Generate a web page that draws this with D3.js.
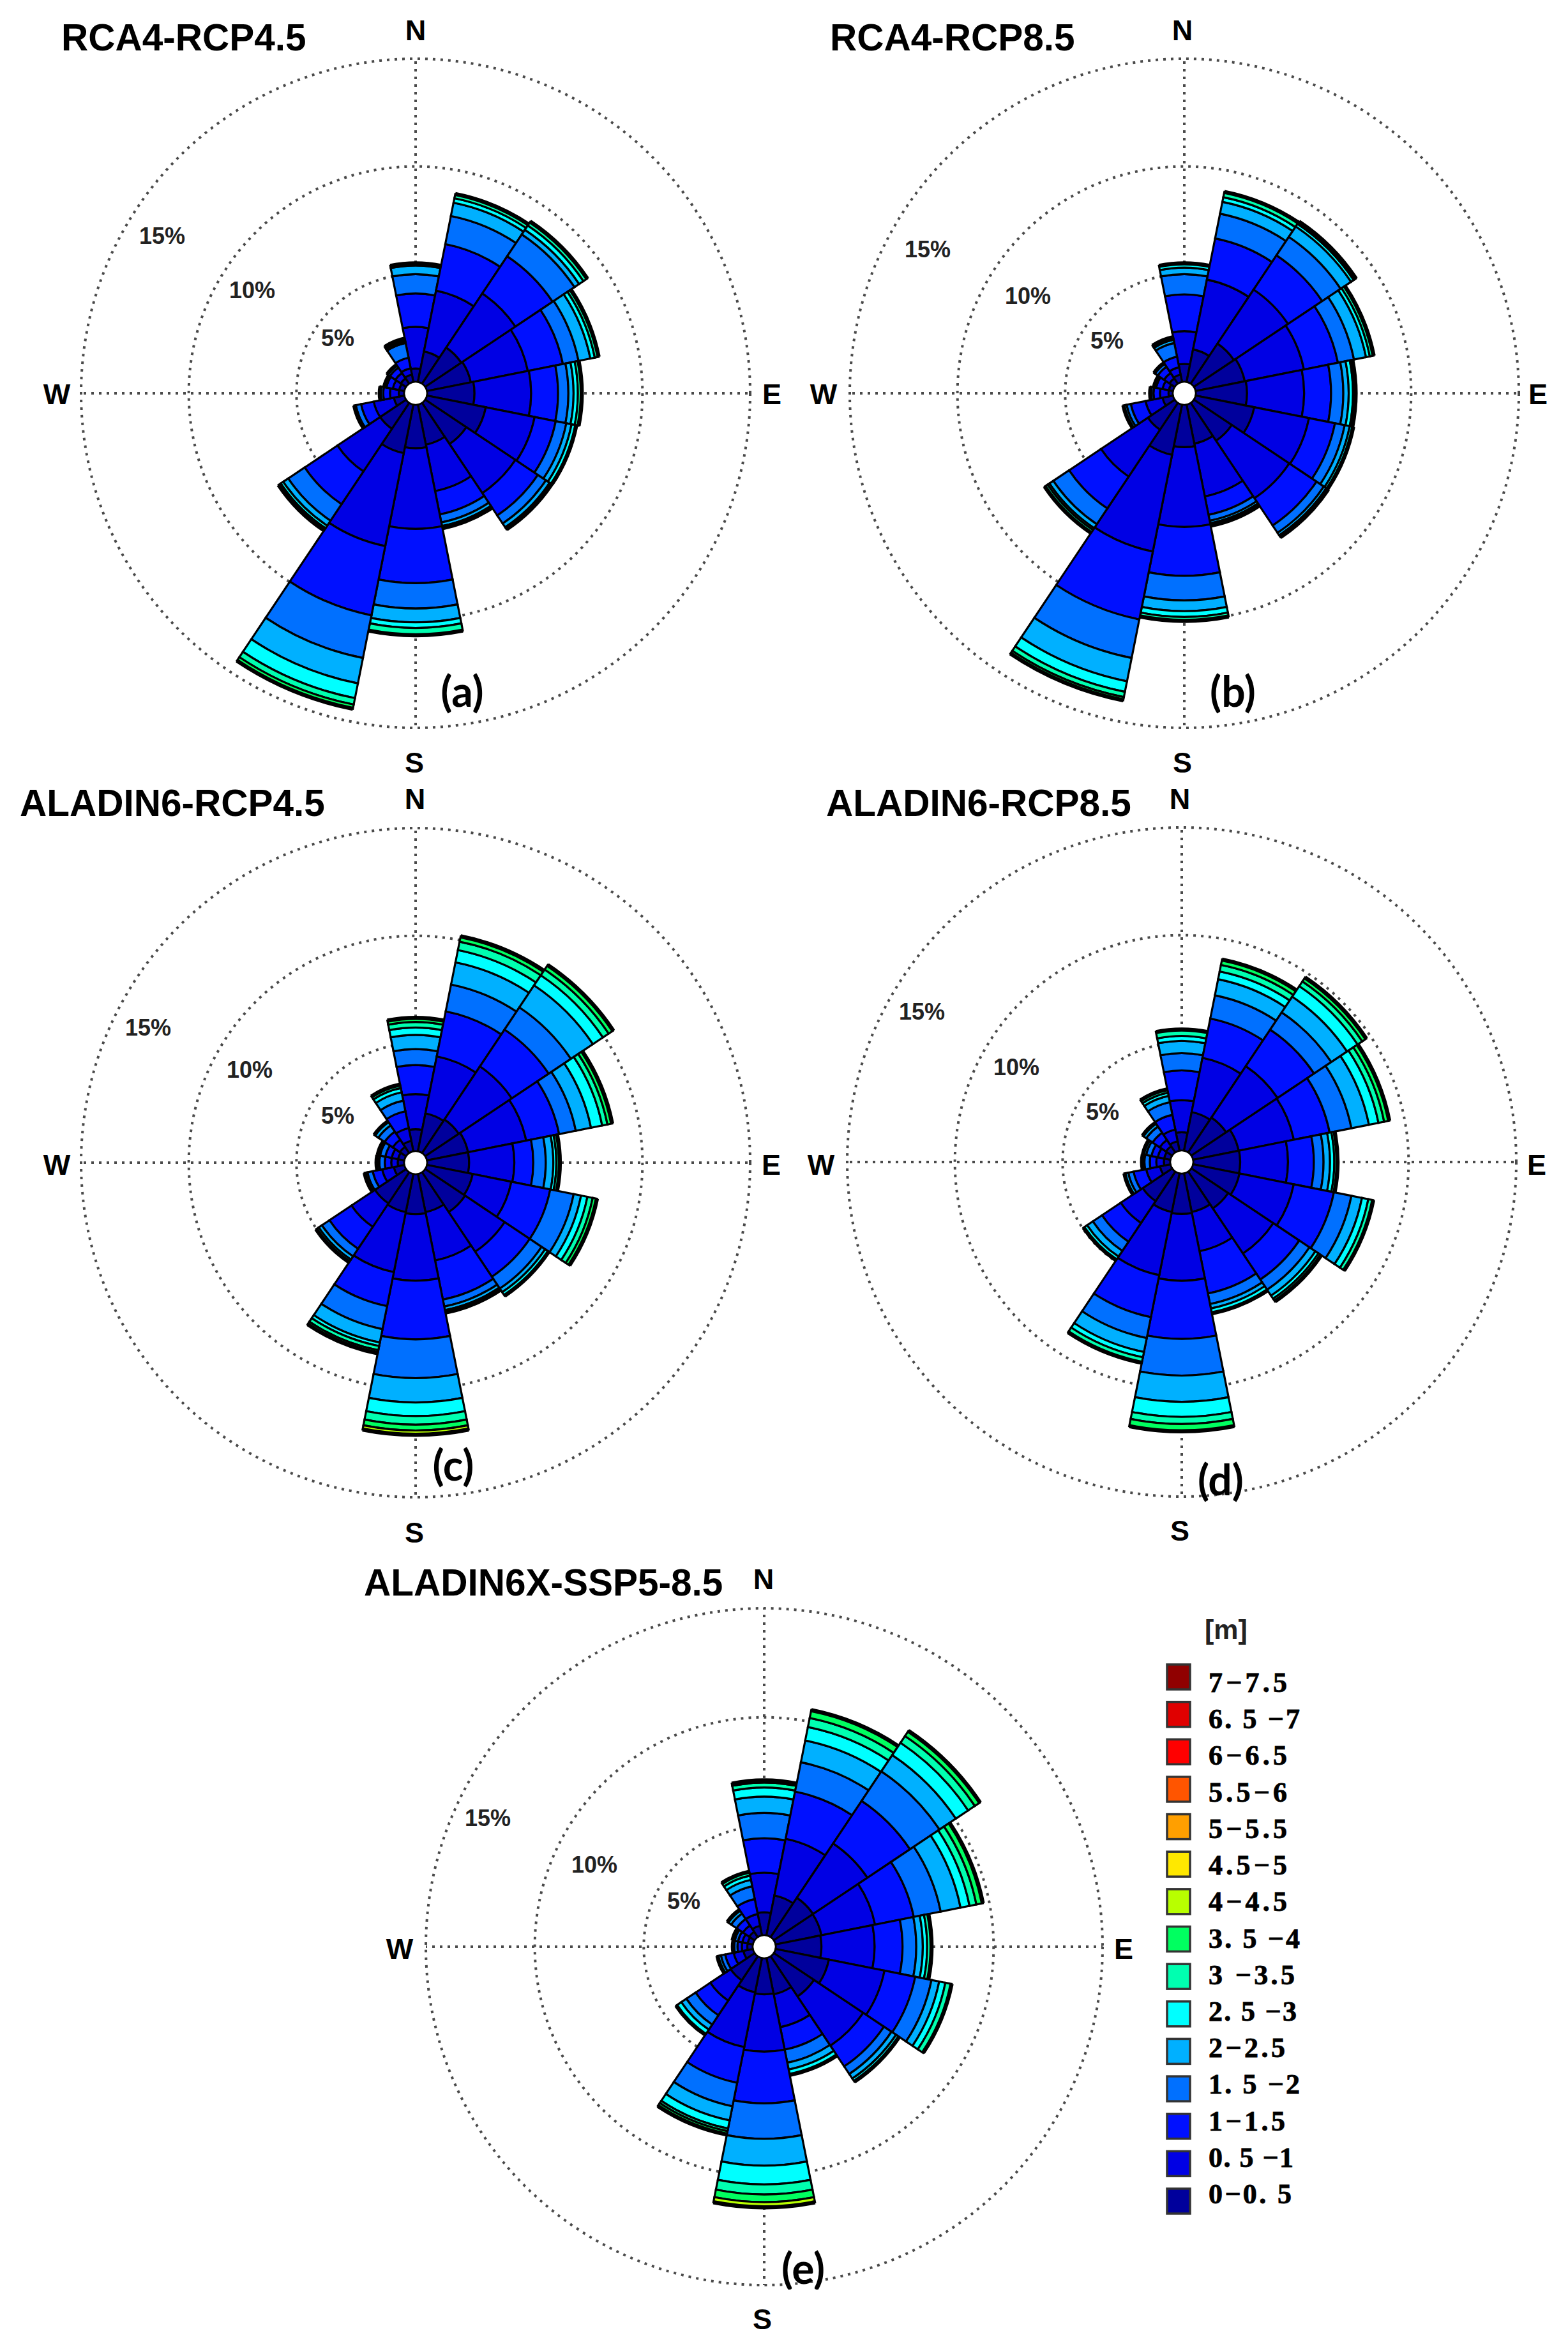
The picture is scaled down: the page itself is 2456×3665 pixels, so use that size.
<!DOCTYPE html>
<html>
<head>
<meta charset="utf-8">
<script src="https://cdnjs.cloudflare.com/ajax/libs/d3/7.8.5/d3.min.js"></script>
<style>
  body { margin: 0; background: #fff; }
  svg { display: block; }
  text { font-family: "Liberation Sans", Arial, sans-serif; fill: #000; }
</style>
</head>
<body>
<svg id="chart" width="2456" height="3665"></svg>
<script>
var directions = ['N','NNE','NE','ENE','E','ESE','SE','SSE','S','SSW','SW','WSW','W','WNW','NW','NNW'];
var ringTicks = [5, 10, 15];

var binLabels = ['0\u22120. 5','0. 5 \u22121','1\u22121.5','1. 5 \u22122','2\u22122.5','2. 5 \u22123','3 \u22123.5',
  '3. 5 \u22124','4\u22124.5','4.5\u22125','5\u22125.5','5.5\u22126','6\u22126.5','6. 5 \u22127','7\u22127.5'];
var binColors = ['#00009c','#0000e4','#0010ff','#0070ff','#00b0ff','#00ffff','#00ffb0',
  '#00ff60','#b8ff00','#ffe800','#ff9f00','#ff5500','#ff0000','#e00000','#900000'];

// cumulative frequency (%) at the top of each height bin, one row per direction from N clockwise
var rcaRcp45 = [
  [.62,2.55,4.1,5.0,5.4,5.5],
  [1.45,4.33,6.53,7.86,8.49,8.7,8.9],
  [2.02,5.04,7.12,8.34,8.6,8.84,9.05],
  [2.08,4.78,6.44,7.18,7.74,7.95,8.13],
  [2.2,4.83,6.08,6.56,6.8,7.0,7.18],
  [2.79,5.1,6.1,6.6,6.85,7.07],
  [2.3,5.04,6.29,6.74,6.95,7.06],
  [1.9,4.1,5.2,5.58,5.75,5.85],
  [2.02,5.76,8.28,9.46,10.1,10.36,10.7],
  [2.3,6.7,9.98,12.0,13.2,13.9,14.2,14.4],
  [1.45,3.83,5.66,6.58,6.86,7.0,7.12],
  [.5,1.45,2.05,2.3,2.37],
  [.25,.66,.97,1.13],
  [.25,.55,.85,.95],
  [.3,.6,.9,1.05],
  [.35,.65,1.15,1.85,1.95,2.05]
];
var rcaRcp85 = [
  [.83,2.35,4.06,5.0,5.3,5.5],
  [1.55,4.85,6.8,7.97,8.53,8.75,9.0],
  [2.24,5.26,7.17,8.2,8.78,8.93,9.05],
  [2.33,5.13,6.74,7.5,8.07,8.25,8.43],
  [2.38,5.03,6.28,6.85,7.1,7.3,7.42],
  [2.78,5.37,6.6,7.06,7.3,7.46],
  [2.12,5.33,6.85,7.26,7.4,7.5],
  [1.85,4.35,5.22,5.5,5.62,5.73],
  [1.97,5.67,7.94,9.08,9.58,9.85,10.03],
  [2.38,6.96,10.17,12.0,13.1,13.6,13.85,14.0],
  [1.5,4.12,5.9,6.78,7.0,7.1,7.26],
  [.5,1.3,2.0,2.2,2.35],
  [.2,.6,.9,1.05],
  [.2,.5,.8,.9],
  [.3,.6,.95,1.15],
  [.35,.7,1.2,1.85,2.0,2.12]
];
var aladinRcp45 = [
  [1.02,2.65,4.0,4.74,5.4,5.74,6.0,6.19],
  [1.8,4.5,6.63,7.9,8.95,9.53,9.93,10.18],
  [1.88,4.84,6.9,8.14,9.37,9.93,10.25,10.5],
  [1.95,4.7,6.26,7.05,7.77,8.3,8.55,8.77],
  [1.95,4.05,4.93,5.51,5.86,6.0,6.16],
  [2.17,4.0,5.84,6.95,7.3,7.6,7.85,8.05],
  [2.23,4.44,5.84,6.5,6.7,6.9],
  [1.81,4.1,5.95,6.28,6.45,6.56],
  [1.86,4.95,7.67,9.47,10.6,11.23,11.63,11.9,12.1],
  [1.81,4.65,6.26,7.35,7.98,8.15,8.35,8.49],
  [1.74,3.05,4.28,4.7,4.88,5.02],
  [.5,1.05,1.5,1.75,1.88],
  [.3,.6,.9,1.15,1.28],
  [.3,.6,.9,1.15,1.26],
  [.35,.75,1.2,1.55,1.77],
  [.5,1.1,1.9,2.4,2.8,3.0,3.16]
];
var aladinRcp85 = [
  [.85,2.34,3.72,4.52,5.09,5.32,5.62],
  [1.83,4.4,6.26,7.36,8.12,8.49,8.8,9.05],
  [1.95,4.82,6.86,7.82,8.7,9.29,9.55,9.77],
  [2.16,4.77,6.47,7.5,8.33,8.78,9.05,9.29],
  [2.18,4.4,5.6,6.05,6.35,6.55,6.7],
  [2.2,4.77,6.67,7.5,8.0,8.3,8.53],
  [2.06,4.58,6.03,6.6,6.93,7.1,7.25],
  [1.83,3.69,5.69,6.19,6.4,6.63],
  [1.88,4.98,7.68,9.38,10.6,11.3,11.63,11.97],
  [1.83,4.82,6.81,7.8,8.46,8.71,8.97],
  [1.65,2.87,3.92,4.43,4.75,4.95],
  [.5,1.15,1.75,2.0,2.18],
  [.3,.65,.95,1.2,1.31],
  [.3,.6,.9,1.15,1.3],
  [.35,.7,1.1,1.45,1.65],
  [.45,1.0,1.7,2.3,2.6,2.75,2.91]
];
var aladinXSsp585 = [
  [1.05,2.87,4.45,5.61,6.36,6.78,7.0,7.1],
  [1.87,4.52,6.73,8.1,9.12,9.75,10.17,10.54],
  [2.17,5.17,7.52,9.15,10.05,10.73,11.1,11.38],
  [2.15,4.66,6.47,7.73,8.66,9.08,9.4,9.7],
  [2.1,4.54,5.82,6.45,6.75,6.95,7.15],
  [2.5,5.1,6.54,7.3,7.66,7.95,8.24],
  [2.22,4.94,6.08,6.5,6.75,6.92],
  [1.7,3.24,4.29,4.9,5.22,5.47],
  [1.66,4.29,6.66,8.29,9.52,10.38,10.84,11.19,11.43],
  [1.61,4.17,5.84,6.94,7.6,7.98,8.1,8.26],
  [1.33,2.45,3.26,3.77,4.05,4.33],
  [.45,.9,1.3,1.5,1.66],
  [.25,.5,.7,.85,.91],
  [.25,.5,.7,.85,.95],
  [.3,.65,1.0,1.3,1.5],
  [.45,1.0,1.7,2.3,2.6,2.8,2.98]
];

var panels = [
  {title:'RCA4-RCP4.5', values:rcaRcp45, tag:'(a)', cx:651, cy:616, r:524, titleAt:[96,79], tagAt:[724,1085],
   N:[651,63], S:[649,1210], W:[89,617], E:[1209,617], rings:[[529,529],[395,454],[254,369]]},
  {title:'RCA4-RCP8.5', values:rcaRcp85, tag:'(b)', cx:1855, cy:616, r:524, titleAt:[1300,79], tagAt:[1931,1085],
   N:[1852,63], S:[1852,1210], W:[1290,617], E:[2409,617], rings:[[1734,533],[1610,463],[1453,390]]},
  {title:'ALADIN6-RCP4.5', values:aladinRcp45, tag:'(c)', cx:651, cy:1821, r:524, titleAt:[31,1278], tagAt:[710,2297],
   N:[650,1267], S:[649,2416], W:[89,1824], E:[1208,1824], rings:[[529,1747],[391,1675],[232,1609]]},
  {title:'ALADIN6-RCP8.5', values:aladinRcp85, tag:'(d)', cx:1851, cy:1820, r:524, titleAt:[1294,1278], tagAt:[1912,2320],
   N:[1848,1267], S:[1848,2413], W:[1286,1824], E:[2407,1824], rings:[[1727,1741],[1592,1671],[1444,1584]]},
  {title:'ALADIN6X-SSP5-8.5', values:aladinXSsp585, tag:'(e)', cx:1197, cy:3049, r:530, titleAt:[570,2499], tagAt:[1258,3555],
   N:[1196,2489], S:[1194,3648], W:[626,3052], E:[1760,3052], rings:[[1071,2977],[931,2920],[764,2847]]}
];

var svg = d3.select('#chart');
var holeRadius = 18;
var dotColor = '#4a4a4a';
var angle = d3.scalePoint().domain(directions).range([0, 2 * Math.PI * 15 / 16]);
var halfWidth = Math.PI / 16;

function drawPanel(p) {
  var g = svg.append('g').attr('transform', 'translate(' + p.cx + ',' + p.cy + ')');
  var radius = d3.scaleLinear().domain([0, 15]).range([holeRadius, p.r]);

  g.selectAll('circle.ring').data(ringTicks).enter().append('circle')
    .attr('class', 'ring')
    .attr('r', d => radius(d))
    .attr('fill', 'none')
    .attr('stroke', dotColor)
    .attr('stroke-width', 4)
    .attr('stroke-dasharray', '4 8');

  [[0, -1], [0, 1], [-1, 0], [1, 0]].forEach(function (v) {
    g.append('line')
      .attr('x1', 0).attr('y1', 0)
      .attr('x2', v[0] * p.r).attr('y2', v[1] * p.r)
      .attr('stroke', dotColor)
      .attr('stroke-width', 4)
      .attr('stroke-dasharray', '4 8');
  });

  var arc = d3.arc();
  directions.forEach(function (dir, i) {
    var mid = angle(dir);
    var tops = [0].concat(p.values[i]);
    d3.pairs(tops).forEach(function (pair, bin) {
      g.append('path')
        .attr('d', arc({
          innerRadius: radius(pair[0]),
          outerRadius: radius(pair[1]),
          startAngle: mid - halfWidth,
          endAngle: mid + halfWidth
        }))
        .attr('fill', binColors[bin])
        .attr('stroke', '#000')
        .attr('stroke-width', 3.2)
        .attr('stroke-linejoin', 'miter');
    });
    // many near-empty top bins pile up into a heavy black rim
    var rim = radius(tops[tops.length - 1]);
    g.append('path')
      .attr('d', arc({innerRadius: rim, outerRadius: rim, startAngle: mid - halfWidth, endAngle: mid + halfWidth}))
      .attr('fill', 'none')
      .attr('stroke', '#000')
      .attr('stroke-width', 6.5);
  });

  g.append('circle').attr('r', 16.5).attr('fill', '#fff');

  svg.append('text').text(p.title)
    .attr('x', p.titleAt[0]).attr('y', p.titleAt[1])
    .attr('font-size', 58.5).attr('font-weight', 'bold');

  svg.append('text').text('N').attr('x', p.N[0]).attr('y', p.N[1])
    .attr('text-anchor', 'middle').attr('font-size', 45).attr('font-weight', 'bold');
  svg.append('text').text('S').attr('x', p.S[0]).attr('y', p.S[1])
    .attr('text-anchor', 'middle').attr('font-size', 45).attr('font-weight', 'bold');
  svg.append('text').text('W').attr('x', p.W[0]).attr('y', p.W[1] + 16)
    .attr('text-anchor', 'middle').attr('font-size', 45).attr('font-weight', 'bold');
  svg.append('text').text('E').attr('x', p.E[0]).attr('y', p.E[1] + 16)
    .attr('text-anchor', 'middle').attr('font-size', 45).attr('font-weight', 'bold');

  ringTicks.forEach(function (t, i) {
    svg.append('text').text(t + '%')
      .attr('x', p.rings[i][0]).attr('y', p.rings[i][1] + 13)
      .attr('text-anchor', 'middle')
      .attr('font-size', 36).attr('font-weight', 'bold')
      .style('fill', '#222');
  });

  svg.append('text').text(p.tag)
    .attr('x', p.tagAt[0]).attr('y', p.tagAt[1] + 22)
    .attr('text-anchor', 'middle')
    .attr('font-size', 66).attr('font-weight', 'bold')
    .style('font-family', 'Lato, sans-serif');
}

panels.forEach(drawPanel);

// the original figure crops the bottom of the (e) tag
svg.append('rect').attr('x', 1215).attr('y', 3586).attr('width', 90).attr('height', 24).attr('fill', '#fff');

// legend, hottest bin on top
var legendLabels = binLabels.slice().reverse();
var legendColors = binColors.slice().reverse();
var legendWidths = [123, 143, 123, 123, 123, 123, 123, 143, 135, 138, 120, 143, 120, 133, 130];
var swatchY = d3.scalePoint().domain(d3.range(15)).range([2607, 3428]);
var labelY = d3.scalePoint().domain(d3.range(15)).range([2650, 3451]);

svg.append('text').text('[m]')
  .attr('x', 1887).attr('y', 2567)
  .attr('font-size', 43).attr('font-weight', 'bold')
  .style('fill', '#222');

var legend = svg.append('g');
legend.selectAll('rect').data(legendColors).enter().append('rect')
  .attr('x', 1828)
  .attr('y', (d, i) => swatchY(i))
  .attr('width', 36)
  .attr('height', 39)
  .attr('fill', d => d)
  .attr('stroke', '#333')
  .attr('stroke-width', 3.5);

legend.selectAll('text').data(legendLabels).enter().append('text')
  .text(d => d)
  .attr('x', 1893)
  .attr('y', (d, i) => labelY(i))
  .attr('font-size', 44)
  .attr('font-weight', 'bold')
  .attr('textLength', (d, i) => legendWidths[i])
  .attr('lengthAdjust', 'spacing')
  .attr('stroke', '#000')
  .attr('stroke-width', 0.8)
  .style('white-space', 'pre')
  .style('font-family', '"Liberation Serif", serif');
</script>
</body>
</html>
